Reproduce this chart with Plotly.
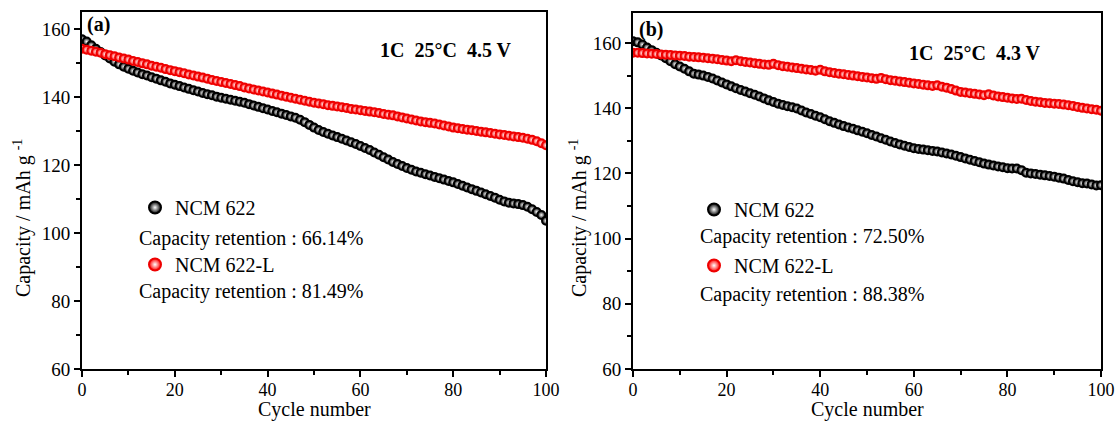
import plotly.graph_objects as go

cycles = list(range(0, 101))

ncm_a = [157.0, 156.3, 155.2, 154.2, 153.2, 152.2, 151.3, 150.4, 149.6, 148.9,
         148.3, 147.7, 147.2, 146.7, 146.3, 145.8, 145.4, 144.9, 144.5, 144.0,
         143.6, 143.2, 142.8, 142.4, 142.0, 141.6, 141.2, 140.8, 140.5, 140.1,
         139.8, 139.5, 139.2, 138.9, 138.6, 138.3, 137.9, 137.5, 137.1, 136.7,
         136.3, 135.9, 135.5, 135.1, 134.7, 134.3, 133.9, 133.3, 132.6, 131.8,
         131.0, 130.3, 129.7, 129.2, 128.7, 128.2, 127.7, 127.2, 126.7, 126.2,
         125.6, 125.0, 124.4, 123.7, 123.0, 122.3, 121.6, 120.9, 120.3, 119.7,
         119.1, 118.6, 118.1, 117.7, 117.3, 116.9, 116.5, 116.1, 115.7, 115.3,
         114.9, 114.4, 113.9, 113.4, 112.9, 112.4, 111.9, 111.4, 110.9, 110.4,
         109.8, 109.3, 108.9, 108.7, 108.5, 108.2, 107.7, 107.0, 106.2, 105.3,
         103.6]

ncmL_a = [154.2, 153.9, 153.6, 153.3, 153.0, 152.6, 152.3, 152.0, 151.6, 151.3,
          151.0, 150.6, 150.3, 149.9, 149.6, 149.2, 148.9, 148.6, 148.2, 147.9,
          147.6, 147.3, 147.0, 146.6, 146.3, 146.0, 145.7, 145.4, 145.0, 144.7,
          144.4, 144.1, 143.8, 143.5, 143.2, 142.8, 142.5, 142.2, 141.9, 141.6,
          141.3, 141.0, 140.7, 140.4, 140.1, 139.8, 139.5, 139.2, 138.9, 138.6,
          138.3, 138.1, 137.9, 137.6, 137.4, 137.2, 137.0, 136.8, 136.5, 136.3,
          136.1, 135.9, 135.7, 135.5, 135.3, 135.0, 134.8, 134.6, 134.3, 134.0,
          133.7, 133.4, 133.1, 132.8, 132.6, 132.4, 132.2, 131.9, 131.6, 131.3,
          131.0, 130.8, 130.6, 130.4, 130.2, 130.0, 129.8, 129.6, 129.4, 129.2,
          129.0, 128.8, 128.6, 128.4, 128.2, 128.0, 127.7, 127.4, 127.0, 126.4,
          125.8]

ncm_b = [160.5, 160.2, 159.5, 158.6, 157.8, 157.0, 156.2, 155.3, 154.4, 153.5,
         152.8, 152.1, 151.3, 150.6, 150.3, 150.0, 149.6, 149.1, 148.5, 147.9,
         147.3, 146.7, 146.1, 145.6, 145.1, 144.6, 144.1, 143.6, 143.0, 142.4,
         141.9, 141.4, 141.0, 140.6, 140.3, 139.9, 139.3, 138.7, 138.2, 137.7,
         137.2, 136.6, 136.0, 135.5, 135.0, 134.5, 134.1, 133.7, 133.2, 132.8,
         132.3, 131.8, 131.3, 130.8, 130.3, 129.8, 129.3, 128.9, 128.5, 128.1,
         127.7, 127.5, 127.3, 127.1, 126.9, 126.7, 126.4, 126.1, 125.8, 125.4,
         125.0, 124.6, 124.2, 123.8, 123.4, 123.0, 122.7, 122.4, 122.1, 121.9,
         121.6, 121.5, 121.5, 121.0, 120.2, 120.0, 119.8, 119.6, 119.4, 119.2,
         119.0, 118.7, 118.4, 118.0, 117.6, 117.3, 117.0, 116.9, 116.6, 116.3,
         116.4]

ncmL_b = [157.0, 157.0, 156.9, 156.8, 156.7, 156.6, 156.5, 156.4, 156.3, 156.2,
          156.1, 156.0, 155.8, 155.7, 155.6, 155.5, 155.3, 155.2, 155.0, 154.8,
          154.6, 154.4, 154.7, 154.4, 154.2, 154.0, 153.8, 153.6, 153.4, 153.3,
          153.6, 153.2, 152.9, 152.7, 152.5, 152.3, 152.1, 151.9, 151.7, 151.5,
          151.8, 151.3, 151.0, 150.8, 150.6, 150.4, 150.2, 150.0, 149.8, 149.6,
          149.4, 149.2, 149.0, 149.3, 148.9, 148.6, 148.4, 148.2, 148.0, 147.8,
          147.6, 147.4, 147.2, 147.0, 146.8, 147.0, 146.6, 146.3, 145.9, 145.4,
          145.0, 144.8, 144.6, 144.4, 144.2, 144.0, 144.3, 143.9, 143.6, 143.4,
          143.2, 143.0, 142.8, 142.9, 142.5, 142.2, 142.0, 141.8, 141.6, 141.5,
          141.4, 141.3, 141.1, 140.9, 140.7, 140.4, 140.1, 139.9, 139.7, 139.5,
          139.2]

x_ticks = [0, 20, 40, 60, 80, 100]
y_ticks = [60, 80, 100, 120, 140, 160]

FONT = "Liberation Serif, Times New Roman, serif"
W, H = 1119, 423


def px_x(p):
    return p / W


def px_y(p):
    return 1 - p / H


def marker(color, edge):
    return dict(size=8, color=color, symbol="circle",
                gradient=dict(type="radial", color="#ffffff"),
                line=dict(color=edge, width=2))


fig = go.Figure()
fig.add_trace(go.Scatter(x=cycles, y=ncm_a, mode="markers", name="NCM 622",
                         marker=marker("#000000", "#000000"),
                         xaxis="x", yaxis="y", legend="legend", legendgroup="a1"))
fig.add_trace(go.Scatter(x=cycles, y=ncmL_a, mode="markers", name="NCM 622-L",
                         marker=marker("#ff0000", "#ee0000"),
                         xaxis="x", yaxis="y", legend="legend", legendgroup="a2"))
fig.add_trace(go.Scatter(x=cycles, y=ncm_b, mode="markers", name="NCM 622",
                         marker=marker("#000000", "#000000"),
                         xaxis="x2", yaxis="y2", legend="legend2", legendgroup="b1"))
fig.add_trace(go.Scatter(x=cycles, y=ncmL_b, mode="markers", name="NCM 622-L",
                         marker=marker("#ff0000", "#ee0000"),
                         xaxis="x2", yaxis="y2", legend="legend2", legendgroup="b2"))

axis_common = dict(
    showline=True, linecolor="black", linewidth=2, mirror=True,
    ticks="outside", ticklen=6, tickwidth=2, tickcolor="black",
    showgrid=False, zeroline=False, automargin=False,
    tickfont=dict(family=FONT, size=19, color="black"),
    minor=dict(ticks="outside", ticklen=4, tickwidth=2, tickcolor="black", dtick=10),
)

xa = dict(axis_common, range=[0, 100], tickvals=x_ticks, ticklabelstandoff=-3,
          tickfont=dict(family=FONT, size=18, color="black"))
layout = dict(
    width=W, height=H,
    margin=dict(l=0, r=0, t=0, b=0, autoexpand=False),
    paper_bgcolor="white", plot_bgcolor="white",
    font=dict(family=FONT, color="black"),
    xaxis=dict(xa, domain=[px_x(82), px_x(546)], anchor="y"),
    yaxis=dict(axis_common, domain=[px_y(369), px_y(12)], range=[60, 165], tickvals=y_ticks, anchor="x"),
    xaxis2=dict(xa, domain=[px_x(633), px_x(1101)], anchor="y2"),
    yaxis2=dict(axis_common, domain=[px_y(369), px_y(13)], range=[60, 169.2], tickvals=y_ticks, anchor="x2"),
    legend=dict(x=px_x(135), y=px_y(188), xanchor="left", yanchor="top",
                font=dict(family=FONT, size=20, color="black"), bgcolor="rgba(0,0,0,0)",
                itemsizing="constant", tracegroupgap=28),
    legend2=dict(x=px_x(694), y=px_y(190), xanchor="left", yanchor="top",
                 font=dict(family=FONT, size=20, color="black"), bgcolor="rgba(0,0,0,0)",
                 itemsizing="constant", tracegroupgap=27),
)
fig.update_layout(**layout)

ann = []
def text(x, y, s, size=20, bold=False, xanchor="left", angle=0, yanchor="middle"):
    ann.append(dict(x=px_x(x), y=px_y(y), xref="paper", yref="paper", text=(f"<b>{s}</b>" if bold else s),
                    showarrow=False, xanchor=xanchor, yanchor=yanchor, textangle=angle,
                    font=dict(family=FONT, size=size, color="black")))

text(85, 25, "(a)", size=20, bold=True)
text(637, 30, "(b)", size=20, bold=True)
text(378, 50, "1C\u00a0\u00a025\u00b0C\u00a0\u00a04.5 V", size=20, bold=True)
text(907, 53, "1C\u00a0\u00a025\u00b0C\u00a0\u00a04.3 V", size=20, bold=True)
text(137, 238, "Capacity retention : 66.14%")
text(137, 291, "Capacity retention : 81.49%")
text(698, 236, "Capacity retention : 72.50%")
text(698, 294, "Capacity retention : 88.38%")
text(22, 218, "Capacity / mAh g <sup>-1</sup>", size=20, xanchor="center", angle=-90)
text(578, 218, "Capacity / mAh g <sup>-1</sup>", size=20, xanchor="center", angle=-90)
text(314, 423, "Cycle number", size=20, xanchor="center", yanchor="bottom")
text(867, 423, "Cycle number", size=20, xanchor="center", yanchor="bottom")
fig.update_layout(annotations=ann)

fig.write_html("out.html")
